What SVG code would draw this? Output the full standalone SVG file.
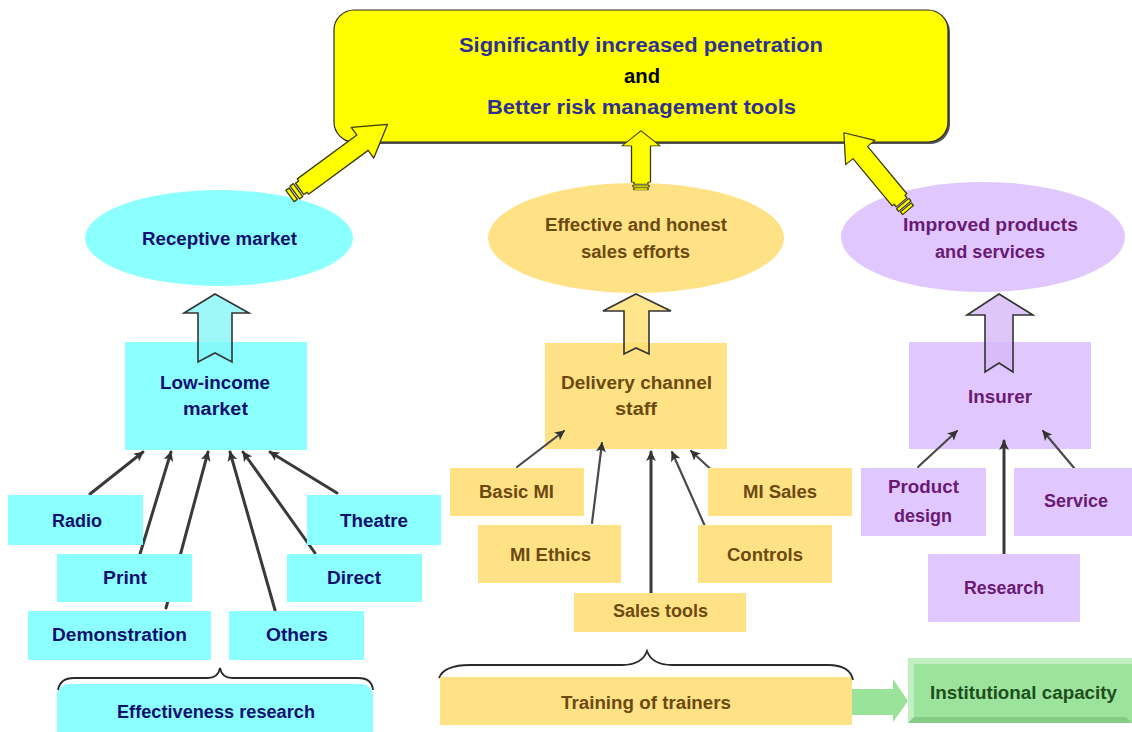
<svg xmlns="http://www.w3.org/2000/svg" width="1132" height="732" viewBox="0 0 1132 732">
  <defs>
    <style>
      text { font-family: "Liberation Sans", "DejaVu Sans", sans-serif; font-size: 18px; font-weight: bold; text-anchor: middle; dominant-baseline: central; }
      .goal { font-size: 20px; fill: #2E3192; }
      .goal-and { font-size: 20px; fill: #000000; }
      .cy { fill: #8CFFFF; }
      .gd { fill: #FFE285; }
      .lv { fill: #E0C8FF; }
      .t-cy { fill: #101070; }
      .t-gd { fill: #6B4A12; }
      .t-lv { fill: #6A1A72; }
      .t-gr { fill: #1E4E1E; }
      .link { fill: none; stroke: #3A3A3A; stroke-width: 3; stroke-linecap: round; }
      .link-thin { fill: none; stroke: #4A4A4A; stroke-width: 2.2; stroke-linecap: round; }
      .brace { fill: none; stroke: #2A2A2A; stroke-width: 1.8; }
      .big-arrow { fill: #FFFF00; stroke: #3A3A00; stroke-width: 1.3; stroke-linejoin: round; }
      .up-arrow { stroke: #333333; stroke-width: 1.6; stroke-linejoin: miter; }
    </style>
    <marker id="head" viewBox="0 0 10 10" refX="9" refY="5" markerWidth="10" markerHeight="10" markerUnits="userSpaceOnUse" orient="auto">
      <path d="M0,0 L10,5 L0,10 L2.5,5 z" fill="#333333"/>
    </marker>
    <!-- yellow block arrow, pointing along +x, length 121 -->
    <g id="fat-arrow">
      <rect x="0" y="-7" width="4" height="14" class="big-arrow"/>
      <rect x="6" y="-8" width="4" height="16" class="big-arrow"/>
      <path d="M12,-7 L16,-7 L16,-9.5 L90,-9.5 L90,-19 L121,0 L90,19 L90,9.5 L16,9.5 L16,7 L12,7 z" class="big-arrow"/>
    </g>
  </defs>

  <rect width="1132" height="732" fill="#FFFFFF"/>

  <!-- goal box -->
  <g id="goal">
    <rect x="336" y="12" width="614" height="132" rx="20" fill="#555555"/>
    <rect x="334" y="10" width="614" height="132" rx="20" fill="#FFFF00" stroke="#2A2A2A" stroke-width="1.2"/>
    <text x="641" y="45" class="goal" textLength="364" lengthAdjust="spacingAndGlyphs">Significantly increased penetration</text>
    <text x="642" y="76" class="goal-and" textLength="36" lengthAdjust="spacingAndGlyphs">and</text>
    <text x="641.5" y="107" class="goal" textLength="309" lengthAdjust="spacingAndGlyphs">Better risk management tools</text>
  </g>

  <!-- outcome ellipses -->
  <g id="receptive-market">
    <ellipse cx="219" cy="238" rx="134" ry="48" class="cy"/>
    <text x="219.5" y="239" class="t-cy" textLength="155" lengthAdjust="spacingAndGlyphs">Receptive market</text>
  </g>
  <g id="sales-efforts">
    <ellipse cx="636" cy="238" rx="148" ry="55" class="gd"/>
    <text x="636" y="225" class="t-gd" textLength="182" lengthAdjust="spacingAndGlyphs">Effective and honest</text>
    <text x="635.5" y="252" class="t-gd" textLength="109" lengthAdjust="spacingAndGlyphs">sales efforts</text>
  </g>
  <g id="improved-products">
    <ellipse cx="983" cy="237" rx="142" ry="55" class="lv"/>
    <text x="990.5" y="225" class="t-lv" textLength="175" lengthAdjust="spacingAndGlyphs">Improved products</text>
    <text x="990" y="252" class="t-lv" textLength="110" lengthAdjust="spacingAndGlyphs">and services</text>
  </g>

  <!-- block arrows into the goal box -->
  <g id="goal-arrows">
    <use href="#fat-arrow" transform="translate(290,196) rotate(-36.3)"/>
    <use href="#fat-arrow" transform="translate(641,190) rotate(-90) scale(0.49,1)"/>
    <use href="#fat-arrow" transform="translate(908,210) rotate(-129.7) scale(0.83,1)"/>
  </g>

  <!-- actor boxes -->
  <g id="low-income-market">
    <rect x="125" y="342" width="182" height="108" class="cy"/>
    <text x="215" y="383" class="t-cy" textLength="110" lengthAdjust="spacingAndGlyphs">Low-income</text>
    <text x="215.5" y="409" class="t-cy" textLength="65" lengthAdjust="spacingAndGlyphs">market</text>
  </g>
  <g id="delivery-channel-staff">
    <rect x="545" y="343" width="182" height="106" class="gd"/>
    <text x="636.5" y="383" class="t-gd" textLength="151" lengthAdjust="spacingAndGlyphs">Delivery channel</text>
    <text x="636" y="409" class="t-gd" textLength="42" lengthAdjust="spacingAndGlyphs">staff</text>
  </g>
  <g id="insurer">
    <rect x="909" y="342" width="182" height="107" class="lv"/>
    <text x="1000" y="397" class="t-lv" textLength="64" lengthAdjust="spacingAndGlyphs">Insurer</text>
  </g>

  <!-- hollow up arrows from boxes to ellipses -->
  <g id="up-arrows">
    <path d="M215,294 L249,313 L232,313 L232,362 L215,353 L198,362 L198,313 L184,313 z" class="up-arrow" fill="#7FF5F5" fill-opacity="0.75"/>
    <path d="M636,294 L671,311 L649,311 L649,354 L636,348 L624,354 L624,311 L603,311 z" class="up-arrow" fill="#FFE070" fill-opacity="0.8"/>
    <path d="M999,294 L1033,315 L1013,315 L1013,372 L999,363 L985,372 L985,315 L967,315 z" class="up-arrow" fill="#D6B8F8" fill-opacity="0.8"/>
  </g>

  <!-- connectors -->
  <g id="connectors">
    <line x1="90" y1="494" x2="143" y2="452" class="link" marker-end="url(#head)"/>
    <line x1="140" y1="554" x2="171" y2="452" class="link" marker-end="url(#head)"/>
    <line x1="166" y1="608" x2="208" y2="452" class="link" marker-end="url(#head)"/>
    <line x1="275" y1="610" x2="230" y2="452" class="link" marker-end="url(#head)"/>
    <line x1="315" y1="553" x2="243" y2="452" class="link" marker-end="url(#head)"/>
    <line x1="337" y1="493" x2="270" y2="452" class="link" marker-end="url(#head)"/>

    <line x1="517" y1="467" x2="564" y2="431" class="link-thin" marker-end="url(#head)"/>
    <line x1="592" y1="523" x2="602" y2="443" class="link-thin" marker-end="url(#head)"/>
    <line x1="651" y1="593" x2="651" y2="452" class="link" marker-end="url(#head)"/>
    <line x1="708" y1="533" x2="672" y2="452" class="link-thin" marker-end="url(#head)"/>
    <line x1="717" y1="475" x2="691" y2="451" class="link-thin" marker-end="url(#head)"/>

    <line x1="918" y1="467" x2="957" y2="431" class="link-thin" marker-end="url(#head)"/>
    <line x1="1004" y1="562" x2="1004" y2="441" class="link" marker-end="url(#head)"/>
    <line x1="1080" y1="475" x2="1043" y2="431" class="link-thin" marker-end="url(#head)"/>

    <!-- green arrow to institutional capacity -->
    <path d="M843,689 L893,689 L893,679 L908,701 L893,722 L893,715 L843,715 L851,702 z" fill="#8FE08F" fill-opacity="0.9"/>
  </g>

  <!-- marketing channels -->
  <g id="radio">
    <rect x="8" y="495" width="135" height="50" class="cy"/>
    <text x="77" y="521" class="t-cy" textLength="50" lengthAdjust="spacingAndGlyphs">Radio</text>
  </g>
  <g id="theatre">
    <rect x="307" y="495" width="134" height="50" class="cy"/>
    <text x="374" y="521" class="t-cy" textLength="68" lengthAdjust="spacingAndGlyphs">Theatre</text>
  </g>
  <g id="print">
    <rect x="57" y="554" width="135" height="48" class="cy"/>
    <text x="125" y="578" class="t-cy" textLength="44" lengthAdjust="spacingAndGlyphs">Print</text>
  </g>
  <g id="direct">
    <rect x="287" y="554" width="135" height="48" class="cy"/>
    <text x="354" y="578" class="t-cy" textLength="54" lengthAdjust="spacingAndGlyphs">Direct</text>
  </g>
  <g id="demonstration">
    <rect x="28" y="611" width="183" height="49" class="cy"/>
    <text x="119.5" y="635" class="t-cy" textLength="135" lengthAdjust="spacingAndGlyphs">Demonstration</text>
  </g>
  <g id="others">
    <rect x="229" y="611" width="135" height="49" class="cy"/>
    <text x="297" y="635" class="t-cy" textLength="62" lengthAdjust="spacingAndGlyphs">Others</text>
  </g>
  <g id="effectiveness-research">
    <rect x="57" y="684" width="316" height="70" rx="12" class="cy"/>
    <path d="M58,690 Q60,678 74,678 L208,678 Q218,678 220,668 Q222,678 232,678 L358,678 Q372,678 373,690" class="brace"/>
    <text x="216" y="712" class="t-cy" textLength="198" lengthAdjust="spacingAndGlyphs">Effectiveness research</text>
  </g>

  <!-- training modules -->
  <g id="basic-mi">
    <rect x="450" y="468" width="134" height="48" class="gd"/>
    <text x="516.5" y="492" class="t-gd" textLength="75" lengthAdjust="spacingAndGlyphs">Basic MI</text>
  </g>
  <g id="mi-sales">
    <rect x="708" y="468" width="144" height="48" class="gd"/>
    <text x="780" y="492" class="t-gd" textLength="74" lengthAdjust="spacingAndGlyphs">MI Sales</text>
  </g>
  <g id="mi-ethics">
    <rect x="478" y="525" width="143" height="58" class="gd"/>
    <text x="550.5" y="555" class="t-gd" textLength="81" lengthAdjust="spacingAndGlyphs">MI Ethics</text>
  </g>
  <g id="controls">
    <rect x="698" y="525" width="134" height="58" class="gd"/>
    <text x="765" y="555" class="t-gd" textLength="76" lengthAdjust="spacingAndGlyphs">Controls</text>
  </g>
  <g id="sales-tools">
    <rect x="574" y="593" width="172" height="39" class="gd"/>
    <text x="660.5" y="611" class="t-gd" textLength="95" lengthAdjust="spacingAndGlyphs">Sales tools</text>
  </g>
  <g id="training-of-trainers">
    <rect x="440" y="677" width="412" height="48" class="gd"/>
    <path d="M439,678 Q444,665 470,665 L622,665 Q642,665 647,651 Q652,665 672,665 L828,665 Q850,665 853,680" class="brace"/>
    <text x="646" y="703" class="t-gd" textLength="170" lengthAdjust="spacingAndGlyphs">Training of trainers</text>
  </g>

  <!-- insurer inputs -->
  <g id="product-design">
    <rect x="861" y="468" width="125" height="68" class="lv"/>
    <text x="923.5" y="487" class="t-lv" textLength="71" lengthAdjust="spacingAndGlyphs">Product</text>
    <text x="923" y="516" class="t-lv" textLength="58" lengthAdjust="spacingAndGlyphs">design</text>
  </g>
  <g id="service">
    <rect x="1014" y="468" width="118" height="68" class="lv"/>
    <text x="1076" y="501" class="t-lv" textLength="64" lengthAdjust="spacingAndGlyphs">Service</text>
  </g>
  <g id="research">
    <rect x="928" y="554" width="152" height="68" class="lv"/>
    <text x="1004" y="588" class="t-lv" textLength="80" lengthAdjust="spacingAndGlyphs">Research</text>
  </g>

  <!-- institutional capacity, bevelled -->
  <g id="institutional-capacity">
    <rect x="908" y="658" width="224" height="65" fill="#9CE49C"/>
    <path d="M908,658 L1132,658 L1132,664 L914,664 L914,717 L908,723 z" fill="#C2F0C2"/>
    <path d="M908,723 L914,717 L1126,717 L1132,723 z" fill="#86CC86"/>
    <text x="1023.5" y="693" class="t-gr" textLength="187" lengthAdjust="spacingAndGlyphs">Institutional capacity</text>
  </g>
</svg>
